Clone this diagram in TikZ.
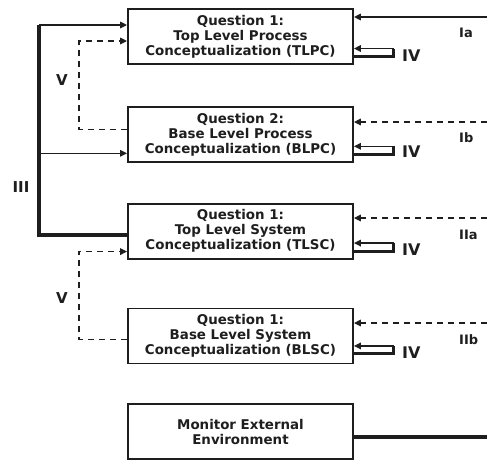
\documentclass[tikz,border=0pt]{standalone}
\usepackage{fontspec}
\setmainfont{DejaVu Sans}
\usepackage{tikz}
\usetikzlibrary{arrows.meta, positioning}
\definecolor{ink}{RGB}{30, 30, 30}

\begin{document}
\begin{tikzpicture}[
    x=1pt, y=-1pt,
    node distance=40pt,
    qbox/.style={rectangle, draw=ink, line width=1.8pt, minimum width=225pt,
                 minimum height=55pt, align=center, text=ink, inner sep=0pt,
                 font=\bfseries\fontsize{13.4}{15}\selectfont},
    arrow/.style={-{Triangle[length=7pt, width=6.5pt]}, line width=1.5pt, draw=ink},
    dasharrow/.style={arrow, dash pattern=on 6pt off 5pt},
    spine/.style={line width=3.8pt, draw=ink, line join=miter},
    hookline/.style={line width=3pt, draw=ink},
    envline/.style={line width=4pt, draw=ink},
    lab/.style={text=ink, inner sep=0pt, font=\bfseries\fontsize{15}{15}\selectfont},
    ivlab/.style={lab, anchor=west, font=\bfseries\fontsize{16}{16}\selectfont},
    srclab/.style={lab, anchor=west, font=\bfseries\fontsize{13}{13}\selectfont},
]
\useasboundingbox (0,0) rectangle (487,461);

% question boxes
\node[qbox] (tlpc) at (240.5,36.5) {Question 1:\\Top Level Process\\Conceptualization (TLPC)};
\node[qbox, below=41pt of tlpc] (blpc) {Question 2:\\Base Level Process\\Conceptualization (BLPC)};
\node[qbox, below=40pt of blpc] (tlsc) {Question 1:\\Top Level System\\Conceptualization (TLSC)};
\node[qbox, below=48pt of tlsc] (blsc) {Question 1:\\Base Level System\\Conceptualization (BLSC)};
\node[qbox, below=39pt of blsc] (mee)  {Monitor External\\Environment};

% inputs from the right edge
\coordinate (ia)  at (487,17);
\coordinate (ib)  at (487,122);
\coordinate (iia) at (487,218);
\coordinate (iib) at (487,323);
\coordinate (env) at (487,437);

\draw[arrow]     (ia)  -- (ia -| tlpc.east);
\draw[dasharrow] (ib)  -- (ib -| blpc.east);
\draw[dasharrow] (iia) -- (iia -| tlsc.east);
\draw[dasharrow] (iib) -- (iib -| blsc.east);
\draw[envline] (mee.east |- env) -- (env);

\node[srclab] (lia)  at (459,33)  {Ia};
\node[srclab] (lib)  at (459,138) {Ib};
\node[srclab] (liia) at (459,235) {IIa};
\node[srclab] (liib) at (459,340) {IIb};

% III: spine on the left
\coordinate (spinetop) at (39,25);
\coordinate (b2in) at ([yshift=-19pt]blpc.west);
\draw[spine] (spinetop) |- ([yshift=-3.5pt]tlsc.west);
\draw[arrow] (spinetop) -- (spinetop -| tlpc.west);
\draw[arrow] (spinetop |- b2in) -- (b2in);
\node[lab] (liii) at (21,187) {III};

% V: feedback from base to top level
\draw[dasharrow] ([yshift=5pt]blpc.west) -- ++(-48,0) |- ([yshift=-4.5pt]tlpc.west);
\draw[dasharrow] ([yshift=-3.5pt]blsc.west) -- ++(-48,0) |- ([yshift=-20.5pt]tlsc.west);
\node[lab] (lv1) at (62,80)  {V};
\node[lab] (lv2) at (62,298) {V};

% IV: self loops
\draw[hookline] ([yshift=-20pt]tlpc.east) -| ([xshift=40pt, yshift=-12pt]tlpc.east) coordinate (h1);
\draw[arrow] (h1) -- ([yshift=-12pt]tlpc.east);
\node[ivlab] (iv1) at ([xshift=48pt, yshift=-19pt]tlpc.east) {IV};

\draw[hookline] ([yshift=-20pt]blpc.east) -| ([xshift=40pt, yshift=-12pt]blpc.east) coordinate (h2);
\draw[arrow] (h2) -- ([yshift=-12pt]blpc.east);
\node[ivlab] (iv2) at ([xshift=48pt, yshift=-17pt]blpc.east) {IV};

\draw[hookline] ([yshift=-20pt]tlsc.east) -| ([xshift=40pt, yshift=-12pt]tlsc.east) coordinate (h3);
\draw[arrow] (h3) -- ([yshift=-12pt]tlsc.east);
\node[ivlab] (iv3) at ([xshift=48pt, yshift=-19pt]tlsc.east) {IV};

\draw[hookline] ([yshift=-18pt]blsc.east) -| ([xshift=40pt, yshift=-10pt]blsc.east) coordinate (h4);
\draw[arrow] (h4) -- ([yshift=-10pt]blsc.east);
\node[ivlab] (iv4) at ([xshift=48pt, yshift=-17pt]blsc.east) {IV};

\end{tikzpicture}
\end{document}
